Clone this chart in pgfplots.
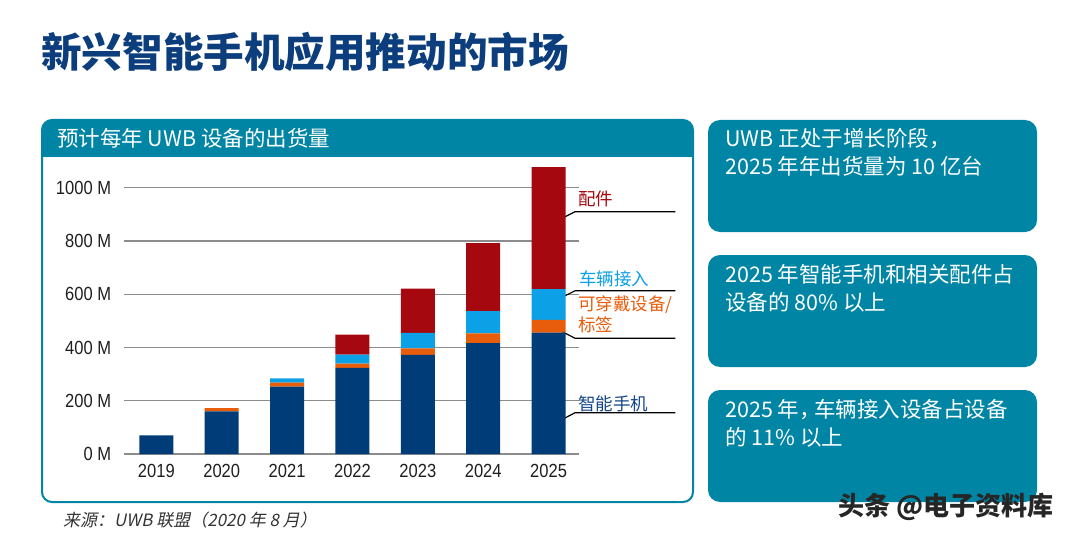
\documentclass[border=0pt]{standalone}
\usepackage{pgfplots}
\pgfplotsset{compat=1.18}
\usepackage{fontspec}
\setmainfont{Liberation Sans}
\newfontfamily\narrow{Liberation Sans}[FakeStretch=0.87]
\newfontfamily\cjk{Noto Sans CJK SC}
\newfontfamily\cjkit{Noto Sans CJK SC}[FakeSlant=0.2]
\definecolor{boxteal}{RGB}{0,133,165}
\definecolor{titleblue}{RGB}{12,62,125}
\definecolor{cnavy}{RGB}{0,61,120}
\definecolor{cnavytxt}{RGB}{20,70,135}
\definecolor{corange}{RGB}{232,93,12}
\definecolor{cblue}{RGB}{12,160,230}
\definecolor{cred}{RGB}{165,8,15}
\definecolor{gridgray}{RGB}{140,140,140}

\pgfplotstableread{
x phone wear vehicle acc
0 70  0  0   0
1 160 12 0   0
2 253 15 16  0
3 323 16 34  75
4 372 25 58  166
5 416 37 84  255
6 456 48 115 458
}\shipdata

\begin{document}
\begin{tikzpicture}
\useasboundingbox (0pt,0pt) rectangle (1080pt,-535pt);
\fill[white] (0pt,0pt) rectangle (1080pt,-535pt);

% title
\node[anchor=west, inner sep=0pt, text=titleblue] at (41pt,-52pt)
  {\cjk\bfseries\fontsize{40.6}{44}\selectfont 新兴智能手机应用推动的市场};

% chart panel
\begin{scope}
\clip[rounded corners=10pt] (42pt,-120pt) rectangle (693pt,-502pt);
\fill[boxteal] (42pt,-120pt) rectangle (693pt,-157pt);
\end{scope}
\draw[boxteal, line width=2pt, rounded corners=10pt] (42pt,-120pt) rectangle (693pt,-502pt);
\node[anchor=west, inner sep=0pt, text=white] at (57pt,-138pt)
  {\cjk\fontsize{21.5}{24}\selectfont 预计每年 UWB 设备的出货量};

% right boxes
\fill[boxteal, rounded corners=12pt] (708pt,-120pt) rectangle (1037pt,-232pt);
\fill[boxteal, rounded corners=12pt] (708pt,-255pt) rectangle (1037pt,-367pt);
\fill[boxteal, rounded corners=12pt] (708pt,-390pt) rectangle (1037pt,-502pt);
\begin{scope}[every node/.style={anchor=west, inner sep=0pt, text=white, font=\cjk\fontsize{21.5}{24}\selectfont}]
\node at (725pt,-139pt) {UWB 正处于增长阶段，};
\node at (725pt,-166.7pt) {2025 年年出货量为 10 亿台};
\node at (725pt,-274.3pt) {2025 年智能手机和相关配件占};
\node at (725pt,-302pt) {设备的 80\% 以上};
\node at (725pt,-410pt) {2025 年，\kern-0.3em 车辆接入设备占设备};
\node at (725pt,-437.7pt) {的 11\% 以上};
\end{scope}

% source
\node[anchor=west, inner sep=0pt, text=black!80] at (63pt,-520pt)
  {\cjkit\fontsize{17}{20}\selectfont 来源：UWB 联盟（2020 年 8 月）};

% watermark
\node[anchor=west, inner sep=0pt, text=black!85] at (838pt,-507pt)
  {\cjk\bfseries\fontsize{26}{28}\selectfont 头条 @电子资料库};

\begin{axis}[
  at={(124.3pt,-454pt)}, anchor=south west,
  scale only axis, width=454.4pt, height=287.6pt,
  xmin=-0.49, xmax=6.46, ymin=0, ymax=1080,
  ybar stacked, bar width=34pt,
  xtick={0,1,2,3,4,5,6},
  xticklabels={2019,2020,2021,2022,2023,2024,2025},
  ytick={0,200,400,600,800,1000},
  /pgf/number format/assume math mode=true,
  /pgf/number format/1000 sep={},
  yticklabel={\pgfmathprintnumber{\tick} M},
  ymajorgrids, grid style={gridgray, line width=1.4pt},
  axis line style={draw=none}, major tick length=0pt,
  tick label style={font=\narrow\fontsize{19}{21}\selectfont, text=black!88},
  yticklabel style={anchor=east, inner sep=0pt, xshift=-13pt},
  xticklabel style={anchor=north, inner sep=0pt, yshift=-10.5pt},
  clip=false,
]
\addplot[fill=cnavy, draw=none] table[x=x, y=phone] {\shipdata};
\addplot[fill=corange, draw=none] table[x=x, y=wear] {\shipdata};
\addplot[fill=cblue, draw=none] table[x=x, y=vehicle] {\shipdata};
\addplot[fill=cred, draw=none] table[x=x, y=acc] {\shipdata};

\draw[black, line width=1.2pt] (axis cs:6.02,862) -- (axis cs:6.405,910) -- (axis cs:7.94,910);
\fill[black] (axis cs:6.02,862) circle (3pt);
\draw[black, line width=1.2pt] (axis cs:6.02,566) -- (axis cs:6.405,613) -- (axis cs:7.94,613);
\fill[black] (axis cs:6.02,566) circle (3pt);
\draw[black, line width=1.2pt] (axis cs:6.02,483) -- (axis cs:6.405,434.5) -- (axis cs:7.94,434.5);
\fill[black] (axis cs:6.02,483) circle (3pt);
\draw[black, line width=1.2pt] (axis cs:6.02,106) -- (axis cs:6.405,155) -- (axis cs:7.94,155);
\fill[black] (axis cs:6.02,106) circle (3pt);
\end{axis}

% series labels
\begin{scope}[every node/.style={anchor=west, inner sep=0pt, font=\cjk\fontsize{17.5}{20}\selectfont}]
\node[text=cred] at (578pt,-199pt) {配件};
\node[text=cblue] at (579pt,-279pt) {车辆接入};
\node[text=corange] at (578pt,-305pt) {可穿戴设备/};
\node[text=corange] at (578pt,-325pt) {标签};
\node[text=cnavytxt] at (578pt,-404pt) {智能手机};
\end{scope}
\end{tikzpicture}
\end{document}
